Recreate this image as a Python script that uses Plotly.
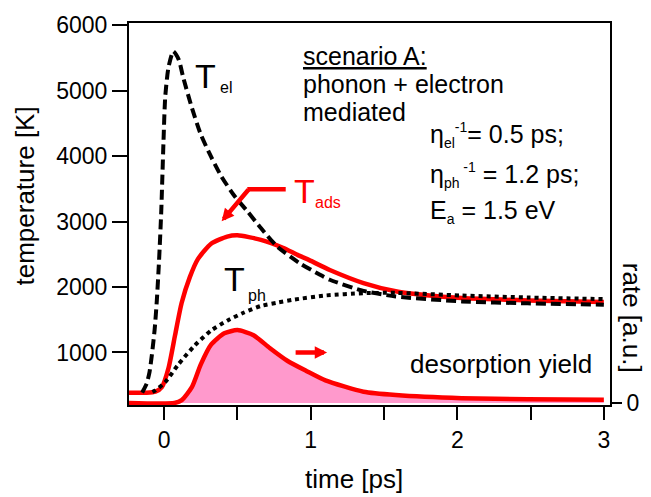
import plotly.graph_objects as go

# ---------------- data ----------------
t_el = [-0.15, -0.14, -0.12, -0.10, -0.083, -0.065, -0.05, -0.035, -0.02, -0.005, 0.007, 0.029,
        0.062, 0.10, 0.13, 0.19, 0.25, 0.32, 0.39, 0.48, 0.57, 0.66, 0.77, 0.92, 1.06,
        1.13, 1.36, 1.58, 2.03, 2.48, 3.0]
T_el = [385, 430, 520, 700, 980, 1350, 1800, 2400, 3150, 4200, 4900, 5350,
        5600, 5470, 5200, 4730, 4330, 3990, 3690, 3390, 3150, 2900, 2620, 2370, 2190,
        2110, 1940, 1855, 1780, 1750, 1730]

t_ads = [-0.24, -0.12, -0.06, -0.016, 0.03, 0.074, 0.119, 0.175, 0.23, 0.32, 0.43, 0.50,
         0.66, 0.81, 0.91, 0.99, 1.13, 1.36, 1.58, 1.81, 2.03, 2.48, 3.0]
T_ads = [385, 385, 400, 470, 765, 1260, 1755, 2150, 2425, 2660, 2770, 2790,
         2720, 2600, 2490, 2410, 2260, 2060, 1935, 1870, 1830, 1795, 1770]

t_ph = [-0.08, -0.06, 0.007, 0.096, 0.21, 0.32, 0.43, 0.545, 0.66, 0.77, 0.88, 1.10,
        1.36, 1.58, 2.03, 2.48, 3.0]
T_ph = [395, 420, 545, 815, 1110, 1335, 1485, 1610, 1710, 1760, 1805, 1870,
        1905, 1910, 1870, 1840, 1815]

t_yield = [-0.24, 0.07, 0.12, 0.19, 0.25, 0.32, 0.41, 0.50, 0.61, 0.72, 0.84, 0.97,
           1.10, 1.36, 1.58, 2.03, 2.48, 3.0]
rate = [0, 0, 0.04, 0.22, 0.53, 0.80, 0.955, 1.0, 0.93, 0.755, 0.58, 0.44,
        0.31, 0.155, 0.11, 0.067, 0.053, 0.044]

x_tickvals = [0, 1, 2, 3]
x_ticktext = ["0", "1", "2", "3"]
x_minor_step = 0.5
y_tickvals = [1000, 2000, 3000, 4000, 5000, 6000]

FONT = "Liberation Sans, Arial, sans-serif"
RED = "#FF0000"

# plot area in page pixels (for placing annotations)
L, R, T, B = 129, 617, 12, 405
W, H = 651, 497


def px(x):
    return (x - L) / (R - L)


def py(y):
    return (B - y) / (B - T)


fig = go.Figure()

fig.add_trace(go.Scatter(x=t_yield, y=rate, yaxis="y2", mode="lines",
                         line=dict(color=RED, width=4.5, shape="spline", smoothing=0.6),
                         fill="tozeroy", fillcolor="#FF99CC", name="desorption yield",
                         showlegend=False))
fig.add_trace(go.Scatter(x=t_ads, y=T_ads, mode="lines",
                         line=dict(color=RED, width=4.5, shape="spline", smoothing=0.6),
                         name="T_ads", showlegend=False))
fig.add_trace(go.Scatter(x=t_ph, y=T_ph, mode="lines",
                         line=dict(color="black", width=4, dash="4px,4px", shape="spline", smoothing=0.6),
                         name="T_ph", showlegend=False))
fig.add_trace(go.Scatter(x=t_el, y=T_el, mode="lines",
                         line=dict(color="black", width=4, dash="10px,5px", shape="spline", smoothing=0.6),
                         name="T_el", showlegend=False))


def txt(text, x, y, size, color="black", xanchor="center", textangle=0):
    return dict(text=text, x=px(x), y=py(y), xref="paper", yref="paper",
                xanchor=xanchor, yanchor="middle", showarrow=False,
                textangle=textangle,
                font=dict(family=FONT, size=size, color=color))


def small(s):
    return '<span style="font-size:14px">' + s + '</span>'


annotations = [
    txt("T", 207, 67, 34),
    txt("el", 227, 78, 16),
    txt("T", 236, 275, 34),
    txt("ph", 259, 292, 16),
    txt("T", 307, 185, 34, RED),
    txt("ads", 331, 197, 16, RED),
    txt("<u>scenario A:</u>", 303, 46, 25, xanchor="left"),
    txt("phonon + electron", 303, 75, 25, xanchor="left"),
    txt("mediated", 303, 104, 25, xanchor="left"),
    txt("η<sub>" + small("el") + "</sub><sup>" + small("-1") + "</sup>= 0.5 ps;",
        432, 127, 25, xanchor="left"),
    txt("η<sub>" + small("ph") + "</sub><sup>" + small(" -1") + "</sup> = 1.2 ps;",
        432, 168, 25, xanchor="left"),
    txt("E<sub>" + small("a") + "</sub> = 1.5 eV", 432, 206, 25, xanchor="left"),
    txt("desorption yield", 506, 363, 26),
    txt("temperature [K]", 24, 190, 26, textangle=-90),
    txt("rate [a.u.]", 640, 315, 26, textangle=90),
    txt("time [ps]", 357, 481, 26),
    # arrow toward T_ads curve
    dict(text="", x=px(223), y=py(216), xref="paper", yref="paper",
         ax=28, ay=-33, showarrow=True, arrowhead=2, arrowsize=0.55,
         arrowwidth=4.5, arrowcolor=RED),
    # arrow toward rate axis
    dict(text="", x=px(330), y=py(351), xref="paper", yref="paper",
         ax=-33, ay=0, showarrow=True, arrowhead=2, arrowsize=0.55,
         arrowwidth=4.5, arrowcolor=RED),
]

shapes = [
    dict(type="line", xref="paper", yref="paper", x0=px(249), y0=py(183),
         x1=px(288), y1=py(183), line=dict(color=RED, width=4.5)),
]

fig.update_layout(
    width=W, height=H,
    margin=dict(l=L, r=W - R, t=T, b=H - B),
    paper_bgcolor="white", plot_bgcolor="white",
    font=dict(family=FONT, color="black"),
    showlegend=False,
    annotations=annotations,
    shapes=shapes,
    xaxis=dict(range=[-0.24, 3.042], tickvals=x_tickvals, ticktext=x_ticktext,
               ticks="outside", ticklen=13, tickwidth=2, tickcolor="black",
               minor=dict(tick0=0, dtick=x_minor_step, ticks="outside", ticklen=13,
                          tickwidth=2, tickcolor="black", showgrid=False),
               showline=True, linewidth=2, linecolor="black", mirror=True,
               showgrid=False, zeroline=False,
               tickfont=dict(size=23, family=FONT, color="black")),
    yaxis=dict(range=[197, 6033], tickvals=y_tickvals,
               ticks="outside", ticklen=15, tickwidth=2, tickcolor="black",
               showline=True, linewidth=2, linecolor="black",
               showgrid=False, zeroline=False,
               tickfont=dict(size=23, family=FONT, color="black")),
    yaxis2=dict(range=[-0.027, 5.21], overlaying="y", side="right",
                tickvals=[0], ticktext=["0"],
                ticks="outside", ticklen=10, tickwidth=2, tickcolor="black",
                showline=True, linewidth=2, linecolor="black",
                showgrid=False, zeroline=False,
                tickfont=dict(size=23, family=FONT, color="black")),
)

fig.write_html("out.html")
